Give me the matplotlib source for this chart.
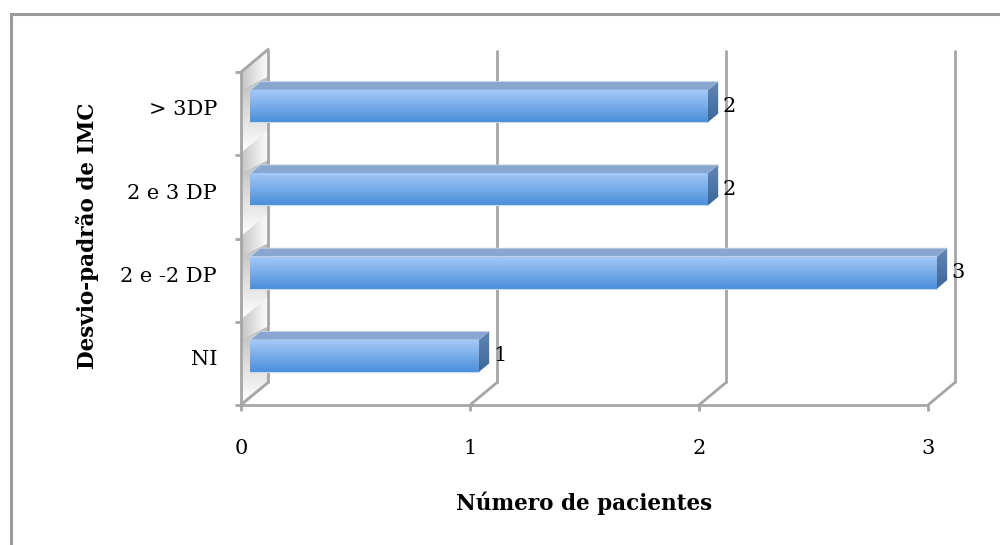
import numpy as np
import matplotlib
matplotlib.use("Agg")
import matplotlib.pyplot as plt
from matplotlib.patches import Polygon
from matplotlib.lines import Line2D
from matplotlib.colors import LinearSegmentedColormap

# ---------------- data ----------------
categories = ["NI", "2 e -2 DP", "2 e 3 DP", "> 3DP"]
values = [1, 3, 2, 2]
xticks = [0, 1, 2, 3]
xlabel = "Número de pacientes"
ylabel = "Desvio-padrão de IMC"

# ---------------- layout ----------------
W, H = 1000, 545
X0, UX = 241.0, 229.0     # pixel of value 0, pixels per unit
Y0, UY = 405.0, 83.25     # pixel row of category floor, pixels per category
DX = 27.0 / UX            # depth offset (value units)
DY = 22.5 / UY            # depth offset (category units)
D0, D1 = 0.33, 0.71       # bar depth span (fraction of depth)
HALF = 16.0 / UY          # half bar thickness
GRID = "#a6a6a6"
FONT = ["DejaVu Serif"]
FS = 15
FSB = 15.5

fig = plt.figure(figsize=(W / 100, H / 100), dpi=100)
ax = fig.add_axes([0, 0, 1, 1])
ax.axis("off")
xlim = (-X0 / UX, (W - X0) / UX)
ylim = ((Y0 - H) / UY, Y0 / UY)

n = len(categories)
xmax = max(xticks)

# outer chart border (top and left visible)
bx, by = 11 / W, 1 - 14 / H
fig.add_artist(Line2D([bx, bx], [-0.01, by], transform=fig.transFigure, color="#9a9a9a", lw=2.2))
fig.add_artist(Line2D([bx, 1.01], [by, by], transform=fig.transFigure, color="#9a9a9a", lw=2.2))


def grad_fill(poly_pts, c_from, c_to, direction="v", z=2):
    """c_from at top (v) or left (h), c_to at bottom / right."""
    poly = Polygon(poly_pts, closed=True, facecolor="none", edgecolor="none")
    ax.add_patch(poly)
    xs = [p[0] for p in poly_pts]
    ys = [p[1] for p in poly_pts]
    cmap = LinearSegmentedColormap.from_list("g", [c_from, c_to])
    if direction == "v":
        g = np.linspace(0, 1, 64).reshape(-1, 1)
    else:
        g = np.linspace(0, 1, 64).reshape(1, -1)
    im = ax.imshow(g, extent=[min(xs), max(xs), min(ys), max(ys)],
                   cmap=cmap, aspect="auto", origin="upper",
                   interpolation="bilinear", zorder=z)
    im.set_clip_path(poly)
    return im


# left wall
wall = [(0, 0), (DX, DY), (DX, n + DY), (0, n)]
grad_fill(wall, "#c4c4c4", "#ffffff", direction="h", z=1)
# wall shadows beneath bars
for i in range(n):
    c = i + 0.5
    top_s = c + HALF + D0 * DY
    bot_s = c - HALF - 0.28
    sh = [(0, bot_s), (DX, bot_s + DY), (DX, top_s + DY * 0.6), (0, top_s)]
    grad_fill(sh, "#bdbdbd", "#ffffff", direction="v", z=1.1)

# back gridlines (including wall back edge)
for v in xticks:
    ax.plot([v + DX, v + DX], [DY, n + DY], color=GRID, lw=2, zorder=1.5, solid_capstyle="butt")
    ax.plot([v, v + DX], [0, DY], color=GRID, lw=2, zorder=1.5)
    ax.plot([v, v], [0, -6 / UY], color=GRID, lw=2, zorder=1.5, solid_capstyle="butt")
# front axis lines & wall edges
ax.plot([0, xmax], [0, 0], color=GRID, lw=2, zorder=1.6, solid_capstyle="butt")
ax.plot([0, 0], [0, n], color=GRID, lw=2, zorder=1.6, solid_capstyle="butt")
ax.plot([0, DX], [n, n + DY], color=GRID, lw=2, zorder=1.6)
for c in range(n + 1):
    ax.plot([0, -6 / UX], [c, c], color=GRID, lw=2, zorder=1.6, solid_capstyle="butt")

# bars
for i, v in enumerate(values):
    c = i + 0.5
    bot = c - HALF + D0 * DY
    top = c + HALF + D0 * DY
    xf0 = D0 * DX
    xf1 = v + D0 * DX
    ddx = (D1 - D0) * DX
    ddy = (D1 - D0) * DY
    # top face
    ax.add_patch(Polygon([(xf0, top), (xf1, top), (xf1 + ddx, top + ddy), (xf0 + ddx, top + ddy)],
                         closed=True, facecolor="#88a6d0", edgecolor="#c8d6ea", lw=0.6, zorder=3))
    # side face
    grad_fill([(xf1, bot), (xf1, top), (xf1 + ddx, top + ddy), (xf1 + ddx, bot + ddy)],
              "#6286b6", "#3c6798", direction="v", z=3)
    # front face
    grad_fill([(xf0, bot), (xf1, bot), (xf1, top), (xf0, top)],
              "#a4c9f7", "#4b8fda", direction="v", z=3.2)
    ax.plot([xf0, xf1], [bot, bot], color="#c9d9ee", lw=0.8, zorder=3.3)
    # value label
    ax.text(v + D1 * DX + 4 / UX, c + D0 * DY, str(v), ha="left", va="center",
            fontsize=FS, family=FONT, color="black", zorder=5)
    # category label
    ax.text(-24 / UX, c + 0.5 * D0 * DY, categories[i], ha="right", va="center",
            fontsize=FS, family=FONT, color="black")

# x tick labels
for v in xticks:
    ax.text(v, (Y0 - 448) / UY, str(v), ha="center", va="center", fontsize=FS, family=FONT)

ax.text(xmax / 2, (Y0 - 503) / UY, xlabel, ha="center", va="center", fontsize=FSB,
        fontweight="bold", family=FONT)
ax.text((88 - X0) / UX, (Y0 - 236) / UY, ylabel, ha="center", va="center", rotation=90,
        fontsize=FSB, fontweight="bold", family=FONT)

ax.set_xlim(*xlim)
ax.set_ylim(*ylim)
fig.savefig("out.png", dpi=100, facecolor="white")
